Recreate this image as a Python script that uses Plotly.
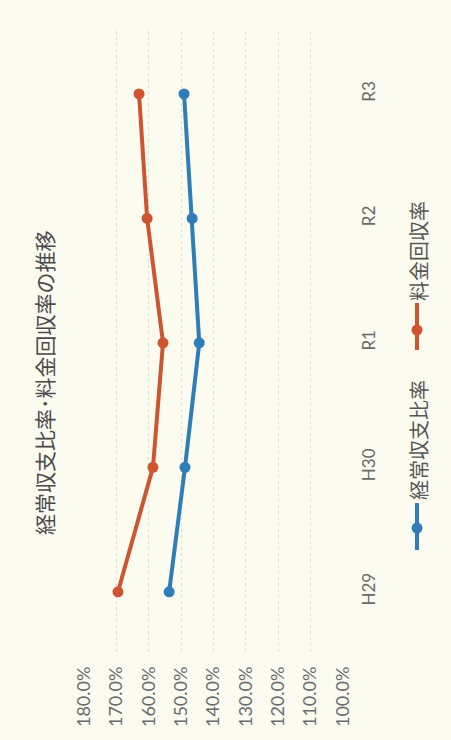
import plotly.graph_objects as go

categories = ["H29", "H30", "R1", "R2", "R3"]
keijo_shushi = [153.7, 148.8, 144.4, 146.6, 149.1]
ryokin_kaishu = [169.5, 158.7, 155.6, 160.5, 163.0]
tick_vals = [100, 110, 120, 130, 140, 150, 160, 170, 180]
tick_text = [f"{v:.1f}%" for v in tick_vals]
series_names = ["経常収支比率", "料金回収率"]
title_text = "経常収支比率･料金回収率の推移"

BLUE = "#2F7DB9"
RED = "#CF5530"
BG = "#FCFBF0"
JP = "Noto Sans CJK JP"

fig = go.Figure()
fig.add_trace(go.Scatter(x=keijo_shushi, y=categories, mode="lines+markers",
                         name=series_names[0], line=dict(color=BLUE, width=4),
                         marker=dict(size=11, color=BLUE)))
fig.add_trace(go.Scatter(x=ryokin_kaishu, y=categories, mode="lines+markers",
                         name=series_names[1], line=dict(color=RED, width=4),
                         marker=dict(size=11, color=RED)))

L, R, T, B = 84, 343, 31, 654
W, H = 451, 740

def px(x):
    return (x - L) / (R - L)

def py(y):
    return (B - y) / (B - T)

fig.update_layout(
    width=W, height=H,
    margin=dict(l=L, r=W - R, t=T, b=H - B),
    paper_bgcolor=BG, plot_bgcolor=BG,
    showlegend=False,
    font=dict(family="Lato, " + JP, color="#666666", size=16),
)
fig.update_xaxes(range=[180, 100], tickvals=tick_vals, ticktext=tick_text,
                 tickangle=-90, showgrid=True, gridcolor="#E0DED4", gridwidth=1,
                 griddash="dot", ticklabelstandoff=8,
                 zeroline=False, showline=False, ticks="", ticklen=0,
                 tickfont=dict(size=18, color="#6A6A6A"))
fig.update_yaxes(type="category", categoryorder="array", categoryarray=categories,
                 range=[-0.5, (592 - T) / 124.5], side="right", tickangle=-90, showgrid=False,
                 zeroline=False, showline=False, ticks="", ticklabelstandoff=14,
                 tickfont=dict(size=17, color="#6A6A6A"))

def note(text, x, y, size, color):
    return dict(text=text, x=px(x), y=py(y), xref="paper", yref="paper",
                xanchor="center", yanchor="middle",
                showarrow=False, textangle=-90, font=dict(family=JP, size=size, color=color))

annotations = [
    note(title_text, 44, 383, 21, "#4A4A4A"),
    note(series_names[0], 418, 440, 20, "#555555"),
    note(series_names[1], 418, 251, 20, "#555555"),
]
fig.update_layout(annotations=annotations)

shapes = []
for color, y0, y1, yc in [(BLUE, 503, 550, 528), (RED, 303, 350, 330)]:
    shapes.append(dict(type="line", xref="paper", yref="paper",
                       x0=px(417), x1=px(417), y0=py(y0), y1=py(y1),
                       line=dict(color=color, width=4)))
    shapes.append(dict(type="circle", xref="paper", yref="paper",
                       xsizemode="pixel", ysizemode="pixel",
                       xanchor=px(417), yanchor=py(yc),
                       x0=-5.5, x1=5.5, y0=-5.5, y1=5.5,
                       fillcolor=color, line=dict(color=color, width=0)))
fig.update_layout(shapes=shapes)

fig.write_html("out.html", config={"displayModeBar": False},
               post_script="document.body.style.margin='0';document.body.style.background='" + BG + "';")
